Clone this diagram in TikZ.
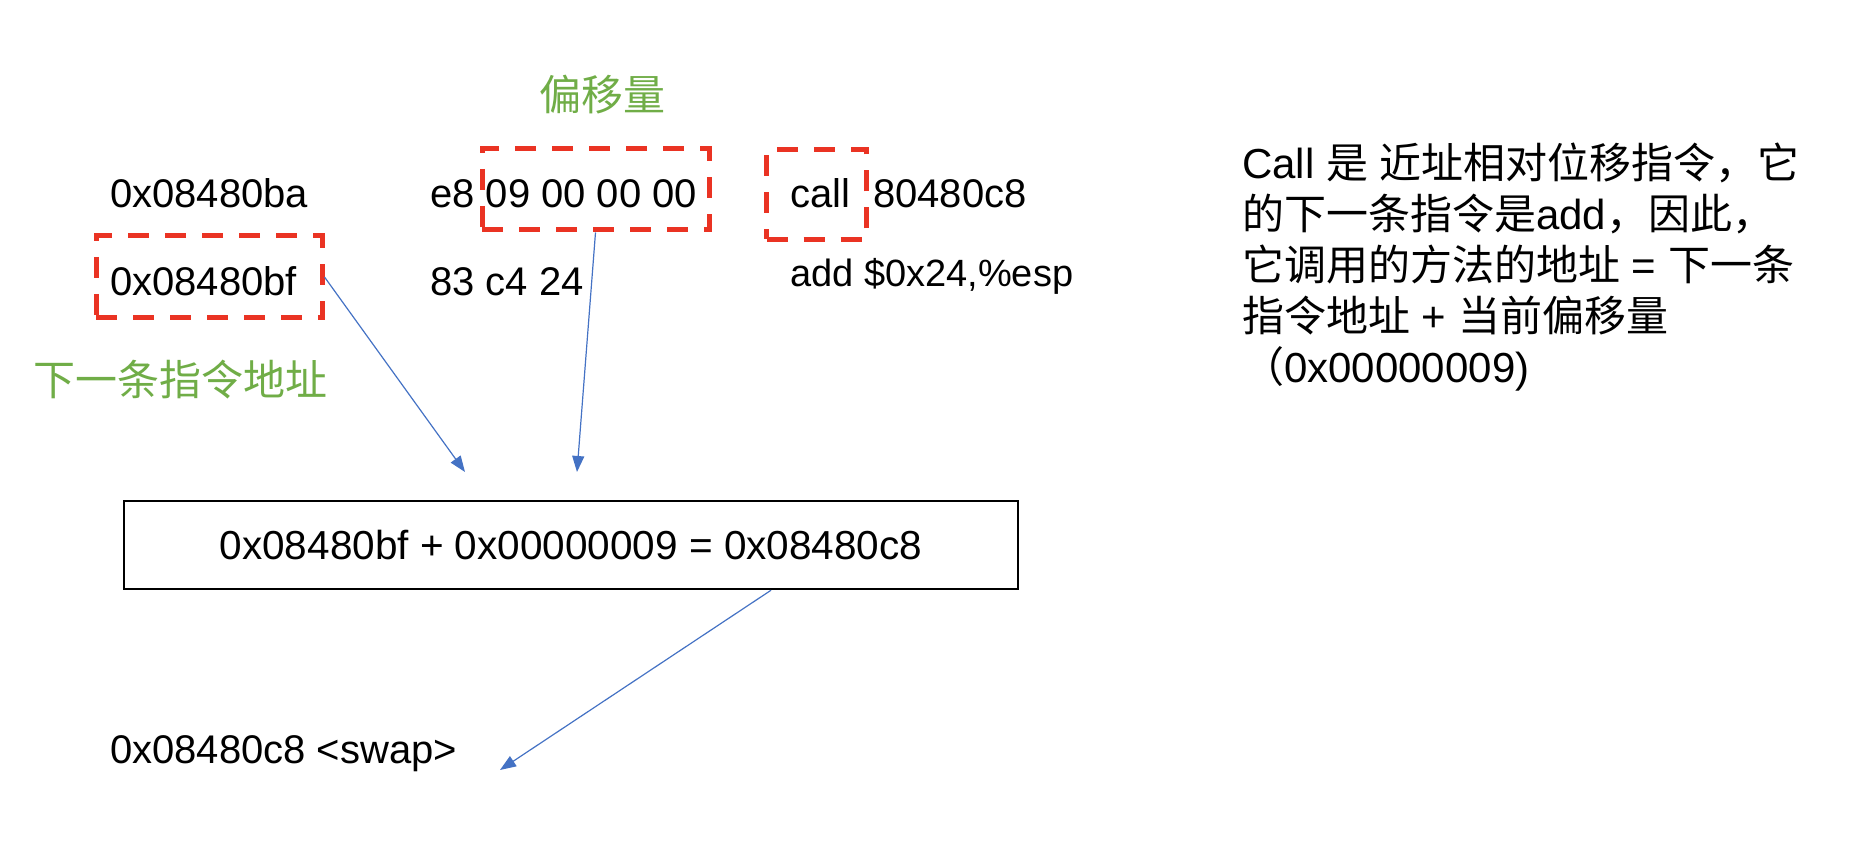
\documentclass[tikz,border=0pt]{standalone}
\usepackage{fontspec}
\setmainfont{Liberation Sans}
\newfontfamily\cjk{Noto Sans CJK SC}
\usetikzlibrary{arrows.meta}
\definecolor{dashred}{RGB}{234,51,35}
\definecolor{labgreen}{RGB}{112,173,71}
\definecolor{arrblue}{RGB}{68,114,196}
\tikzset{
  codetxt/.style={inner sep=0pt, anchor=base west, font=\fontsize{40}{48}\selectfont},
  notetxt/.style={inner sep=0pt, anchor=base west, font=\fontsize{42}{50}\selectfont},
  greentxt/.style={inner sep=0pt, text=labgreen, font=\cjk\fontsize{42}{50}\selectfont},
  redbox/.style={draw=dashred, line width=5pt, dash pattern=on 21pt off 16pt, inner sep=0pt, minimum width=#1},
  bluearrow/.style={draw=arrblue, line width=1.2pt, -{Triangle[length=16pt,width=12pt]}},
}
\begin{document}
\begin{tikzpicture}[x=1pt,y=-1pt]
\useasboundingbox (0,0) rectangle (1872,866);
% labels
\node[greentxt, anchor=base] (offlab) at (602,111) {偏移量};
\node[greentxt, anchor=base west] (nextlab) at (33,396) {下一条指令地址};
% code rows
\node[codetxt] (addr1) at (110,208) {0x08480ba};
\node[codetxt] (bytes1) at (430,208) {e8 09 00 00 00};
\node[codetxt] (callw) at (790,208) {call};
\node[codetxt] (target) at (873,208) {80480c8};
\node[codetxt] (addr2) at (110,296) {0x08480bf};
\node[codetxt] (bytes2) at (430,296) {83 c4 24};
\node[codetxt, font=\fontsize{38}{46}\selectfont] (addins) at (790,287) {add \$0x24,\%esp};
% dashed boxes
\node[redbox=227pt, minimum height=81pt] (offbox) at (595.5,189.5) {};
\node[redbox=100pt, minimum height=90pt] (callbox) at (816.5,194.5) {};
\node[redbox=226pt, minimum height=82pt] (addrbox) at (209,277) {};
% sum box
\node[draw=black, line width=2.5pt, minimum width=894pt, minimum height=88pt, inner sep=0pt,
      font=\fontsize{40.5}{48}\selectfont] (sum) at (571,545) {0x08480bf + 0x00000009 = 0x08480c8};
% result
\node[codetxt] (result) at (110,763) {0x08480c8 <swap>};
% note
\node[notetxt] (n1) at (1242,179) {Call {\cjk 是} {\cjk 近址相对位移指令，它}};
\node[notetxt] (n2) at (1242,230) {{\cjk 的下一条指令是}add{\cjk ，因此，}};
\node[notetxt] (n3) at (1242,281) {{\cjk 它调用的方法的地址} = {\cjk 下一条}};
\node[notetxt] (n4) at (1242,332) {{\cjk 指令地址} + {\cjk 当前偏移量}};
\node[notetxt] (n5) at (1242,383) {{\cjk （}0x00000009)};
% arrows
\coordinate (t1) at (465,472);
\coordinate (t2) at (577,472);
\coordinate (t3) at (500,770);
\draw[bluearrow] (addrbox.east) -- (t1);
\draw[bluearrow] (offbox.south) -- (t2);
\draw[bluearrow] ([xshift=200pt]sum.south) -- (t3);
\end{tikzpicture}
\end{document}
